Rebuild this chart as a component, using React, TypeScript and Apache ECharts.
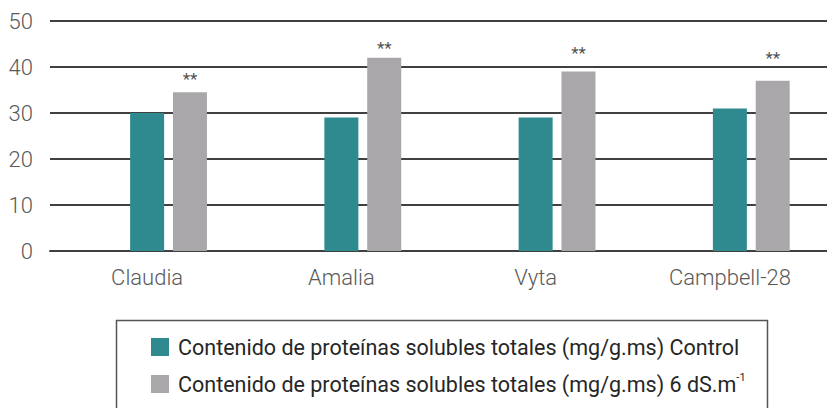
import React, { useEffect, useRef } from "react";
import * as echarts from "echarts";

const categories = ["Claudia", "Amalia", "Vyta", "Campbell-28"];
const controlValues = [30, 29, 29, 31];
const salineValues = [34.5, 42, 39, 37];
const significanceLevels = [38, 44.7, 43.8, 42.7];
const significanceLabels = ["**", "**", "**", "**"];
const yTicks = [0, 10, 20, 30, 40, 50];
const seriesNames = [
  "Contenido de proteínas solubles totales (mg/g.ms) Control",
  "Contenido de proteínas solubles totales (mg/g.ms) 6 dS.m-1",
];

export default function App() {
  const ref = useRef<HTMLDivElement>(null);
  useEffect(() => {
    if (!ref.current) return;
    const chart = echarts.init(ref.current, null, { renderer: "svg" });
    const font = "Roboto, 'Noto Sans', sans-serif";
    chart.setOption({
      animation: false,
      backgroundColor: "#ffffff",
      grid: { left: 50, right: -11, top: 21, bottom: 157, containLabel: false },
      xAxis: {
        type: "category",
        data: categories,
        axisLine: { show: true, lineStyle: { color: "#404040", width: 2 } },
        axisTick: { show: false },
        axisLabel: { color: "#5a5a5a", fontSize: 22, fontWeight: 300, fontFamily: font, margin: 15 },
      },
      yAxis: {
        type: "value",
        min: yTicks[0],
        max: yTicks[yTicks.length - 1],
        interval: 10,
        axisLine: { show: false },
        axisTick: { show: false },
        splitLine: { lineStyle: { color: "#404040", width: 2 } },
        axisLabel: { color: "#5a5a5a", fontSize: 22, fontWeight: 300, fontFamily: font, margin: 17 },
      },
      legend: {
        orient: "vertical",
        left: 146,
        top: 331,
        height: 160,
        width: 640,
        itemWidth: 18,
        itemHeight: 18,
        itemGap: 14,
        icon: "rect",
        data: seriesNames,
        formatter: (name: string) =>
          name.endsWith("-1") ? `{t|${name.slice(0, -2)}}{s|-1}` : `{t|${name}}`,
        textStyle: {
          color: "#262626",
          fontFamily: font,
          fontSize: 21.5,
          padding: [0, 0, 0, 4],
          rich: {
            t: { color: "#262626", fontFamily: font, fontSize: 21.5, lineHeight: 24 },
            s: { color: "#262626", fontFamily: font, fontSize: 11, lineHeight: 24, verticalAlign: "top", padding: [0, 0, 9, 0] },
          },
        },
      },
      graphic: [
        {
          type: "rect",
          shape: { x: 116.5, y: 320.5, width: 651, height: 110 },
          style: { fill: "none", stroke: "#555555", lineWidth: 1.5 },
          z: 0,
        },
      ],
      series: [
        {
          name: "spacer",
          type: "bar",
          data: categories.map(() => "-"),
          barWidth: 34,
          barGap: "26%",
        },
        {
          name: seriesNames[0],
          type: "bar",
          data: controlValues,
          barWidth: 34,
          barGap: "26%",
          itemStyle: { color: "#2e8a8e" },
        },
        {
          name: seriesNames[1],
          type: "bar",
          data: salineValues,
          barWidth: 34,
          barGap: "26%",
          itemStyle: { color: "#a9a7aa" },
        },
        {
          name: "significance",
          type: "scatter",
          data: significanceLevels,
          symbolSize: 0,
          label: {
            show: true,
            position: "inside",
            offset: [43, 3],
            formatter: (p: any) => significanceLabels[p.dataIndex],
            color: "#222222",
            fontSize: 17,
            fontFamily: font,
          },
        },
      ],
    });
    return () => chart.dispose();
  }, []);
  return (
    <div
      ref={ref}
      style={{ position: "fixed", left: 0, top: 0, width: 827, height: 408 }}
    />
  );
}
